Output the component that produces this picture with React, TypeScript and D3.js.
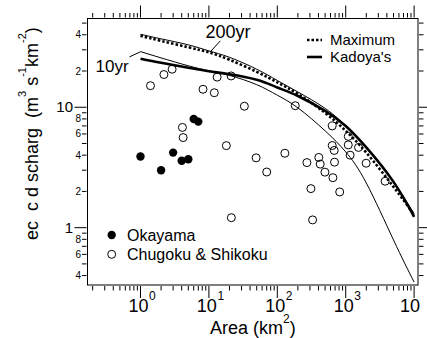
import React from 'react';
import * as d3 from 'd3';

const W = 427;
const H = 338;
const left = 87.5;
const right = 418;
const top = 18.5;
const bottom = 285;

// Okayama (filled)
const okayamaArea = [1.0, 2.0, 3.0, 4.0, 5.0, 6.0, 7.0];
const okayamaQ = [3.9, 3.0, 4.2, 3.6, 3.7, 8.0, 7.6];

// Chugoku & Shikoku (open)
const chugokuArea = [
  1.4, 2.2, 2.9, 4.1, 4.2, 8.2, 12, 13.2, 18, 21.1, 21.3, 33, 49, 70, 129, 183, 271,
  310, 328, 404, 424, 497, 635, 635, 679, 650, 686, 817, 1090, 1090, 1160, 1540, 1990, 3770,
];
const chugokuQ = [
  15.1, 18.7, 20.7, 6.8, 5.6, 14.1, 13.2, 17.8, 4.8, 18.2, 1.21, 10.2, 3.8, 2.9, 4.15, 10.3, 3.47,
  2.11, 1.16, 3.83, 3.37, 2.89, 7.0, 4.81, 4.38, 2.6, 3.5, 1.98, 5.73, 4.87, 4.0, 4.64, 3.43, 2.43,
];

// envelope curves
const curveArea = [1, 2, 5, 10, 20, 50, 100, 200, 500, 1000, 2000, 5000, 10000];
const maximumQ = [39.2, 35.6, 31.5, 28.6, 24.8, 19.7, 16.1, 12.9, 8.98, 6.37, 4.2, 2.18, 1.28];
const kadoyaQ = [25.3, 23.4, 21.3, 19.9, 18.8, 16.9, 14.6, 12.4, 9.33, 7.0, 4.64, 2.4, 1.23];
const yr200Q = [40.4, 37.0, 33.0, 29.4, 26.0, 20.7, 16.7, 13.4, 9.79, 7.0, 4.6, 2.4, 1.3];
const yr10Q = [29.0, 25.7, 22.1, 20.1, 18.4, 15.4, 12.6, 9.89, 6.37, 4.26, 2.35, 0.79, 0.353];

const xMajor = [1, 10, 100, 1000, 10000];
const xMajorExp = ['0', '1', '2', '3', ''];
const yLabelVals = [40, 20, 10, 8, 6, 4, 2, 1, 0.8, 0.6, 0.4];
const yLabelText = ['4', '2', '10', '8', '6', '4', '2', '1', '8', '6', '4'];

const font = '"Liberation Sans", Arial, sans-serif';

export default function App() {
  const x = d3.scaleLog().domain([0.168, 11400]).range([left, right]);
  const y = d3.scaleLog().domain([0.334, 54.6]).range([bottom, top]);

  const xTicks: number[] = [];
  for (let e = -1; e <= 4; e++)
    for (let m = 1; m <= 9; m++) {
      const v = m * Math.pow(10, e);
      if (v >= 0.168 && v <= 11400) xTicks.push(v);
    }
  const yTicks: number[] = [];
  for (let e = -1; e <= 1; e++)
    for (let m = 1; m <= 9; m++) {
      const v = m * Math.pow(10, e);
      if (v >= 0.334 && v <= 54.6) yTicks.push(v);
    }
  const isMajor = (v: number) => Math.abs(Math.log10(v) - Math.round(Math.log10(v))) < 1e-9;

  const line = d3
    .line<number>()
    .x((d, i) => x(curveArea[i]))
    .y((d) => y(d))
    .curve(d3.curveNatural);

  return (
    <svg width={W} height={H} style={{ position: 'absolute', left: 0, top: 0, background: '#fff' }} fontFamily={font}>
      <defs>
        <clipPath id="plot">
          <rect x={left} y={top} width={right - left} height={bottom - top} />
        </clipPath>
      </defs>
      <rect x={left} y={top} width={right - left} height={bottom - top} fill="none" stroke="#000" strokeWidth={1} />

      {xTicks.map((v) => {
        const len = isMajor(v) ? 12 : 4.5;
        return (
          <g key={'x' + v} stroke="#000" strokeWidth={1}>
            <line x1={x(v)} x2={x(v)} y1={bottom + 1} y2={bottom + 1 + len} />
            <line x1={x(v)} x2={x(v)} y1={top - 1} y2={top - 1 - len} />
          </g>
        );
      })}
      {yTicks.map((v) => {
        const len = isMajor(v) ? 12 : 4.5;
        return (
          <g key={'y' + v} stroke="#000" strokeWidth={1}>
            <line x1={left - 1} x2={left - 1 - len} y1={y(v)} y2={y(v)} />
            <line x1={right + 1} x2={right + 1 + len} y1={y(v)} y2={y(v)} />
          </g>
        );
      })}

      {xMajor.map((v, i) => (
        <g key={'xl' + v}>
          <text x={x(v) + (i === 4 ? 6 : 8)} y={312} textAnchor="end" fontSize={18}>
            10
          </text>
          <text x={x(v) + 8.5} y={300} fontSize={12}>
            {xMajorExp[i]}
          </text>
        </g>
      ))}
      {yLabelVals.map((v, i) => {
        const big = isMajor(v);
        return (
          <text
            key={'yl' + i}
            x={big ? 73 : 81}
            y={y(v) + (big ? 5 : 3.5)}
            textAnchor="end"
            fontSize={big ? 15 : 10}
          >
            {yLabelText[i]}
          </text>
        );
      })}

      <text x={210} y={334} fontSize={18}>
        Area (km
        <tspan dy={-11} fontSize={12}>2</tspan>
        <tspan dy={11}>)</tspan>
      </text>

      <text transform="translate(38,240) rotate(-90)" fontSize={18} style={{ whiteSpace: 'pre' }}>
        {'ec  c d scharg  (m'}
        <tspan dy={-12} fontSize={11}>3</tspan>
        <tspan dy={12}>{' s'}</tspan>
        <tspan dy={-12} fontSize={11}>-1</tspan>
        <tspan dy={12}>km</tspan>
        <tspan dy={-12} fontSize={11}>-2</tspan>
        <tspan dy={12}>)</tspan>
      </text>

      <g clipPath="url(#plot)" fill="none" stroke="#000">
        <path d={line(yr200Q) || ''} strokeWidth={1} />
        <path d={line(yr10Q) || ''} strokeWidth={1} />
        <path d={line(maximumQ) || ''} strokeWidth={2.6} strokeDasharray="2.5 2" />
        <path d={line(kadoyaQ) || ''} strokeWidth={2.6} />
      </g>

      {/* curve annotations */}
      <text x={x(8.9)} y={y(37.8)} fontSize={18}>200yr</text>
      <line x1={x(14.7)} y1={y(35.6)} x2={x(10.5)} y2={y(28.9)} stroke="#000" strokeWidth={1} />
      <text x={x(0.22)} y={y(19.7)} fontSize={17}>10yr</text>
      <line x1={x(0.69)} y1={y(26.2)} x2={x(1)} y2={y(28.9)} stroke="#000" strokeWidth={1} />

      {chugokuArea.map((a, i) => (
        <circle key={'c' + i} cx={x(a)} cy={y(chugokuQ[i])} r={4} fill="none" stroke="#000" strokeWidth={1} />
      ))}
      {okayamaArea.map((a, i) => (
        <circle key={'o' + i} cx={x(a)} cy={y(okayamaQ[i])} r={4.2} fill="#000" />
      ))}

      {/* legends */}
      <line x1={307} x2={322} y1={40} y2={40} stroke="#000" strokeWidth={2.6} strokeDasharray="2.5 2" />
      <text x={330} y={45} fontSize={15}>Maximum</text>
      <line x1={307} x2={322} y1={57} y2={57} stroke="#000" strokeWidth={2.6} />
      <text x={330} y={62} fontSize={15}>Kadoya's</text>

      <circle cx={111.7} cy={235} r={4.2} fill="#000" />
      <text x={127} y={241} fontSize={16}>Okayama</text>
      <circle cx={111.7} cy={254.3} r={4} fill="none" stroke="#000" />
      <text x={127} y={260} fontSize={16}>Chugoku &amp; Shikoku</text>
    </svg>
  );
}
